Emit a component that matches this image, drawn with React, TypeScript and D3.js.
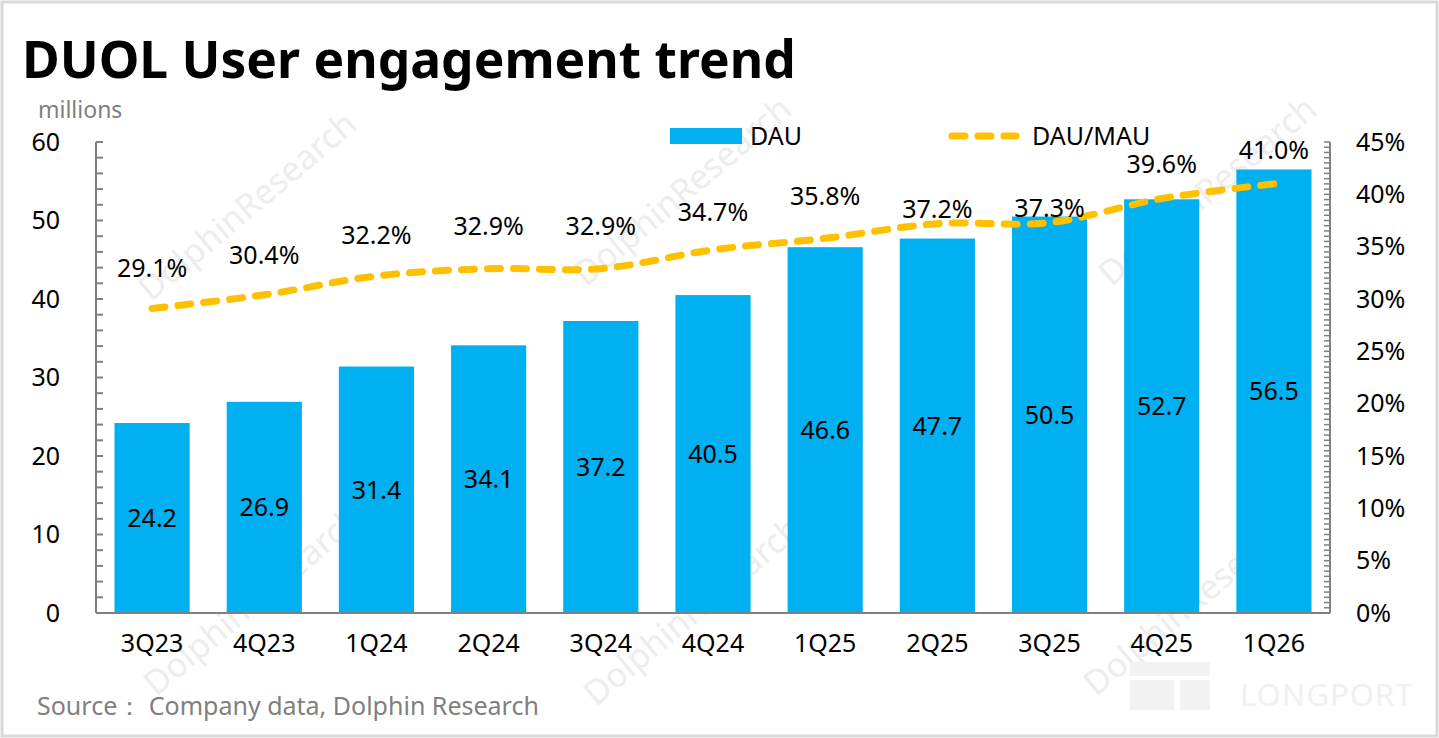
import React from "react";
import * as d3 from "d3";

const categories = ["3Q23", "4Q23", "1Q24", "2Q24", "3Q24", "4Q24", "1Q25", "2Q25", "3Q25", "4Q25", "1Q26"];
const dau = [24.2, 26.9, 31.4, 34.1, 37.2, 40.5, 46.6, 47.7, 50.5, 52.7, 56.5];
const dauMau = [29.1, 30.4, 32.2, 32.9, 32.9, 34.7, 35.8, 37.2, 37.3, 39.6, 41.0];
const leftTicks = [0, 10, 20, 30, 40, 50, 60];
const rightTicks = [0, 5, 10, 15, 20, 25, 30, 35, 40, 45];
// label vertical offsets for the ratio labels (layout only)
const ratioLabelOffsets = [-40, -40, -41, -42, -42, -38, -42, -14, -14, -34, -34];

const W = 1439;
const H = 738;
const FONT = "'Noto Sans', 'Open Sans', sans-serif";
const BLUE = "#00B0F0";
const GOLD = "#FFC000";
const AXIS = "#808080";
const FS = 25;

export default function App() {
  const left = 96;
  const right = 1330;
  const top = 142;
  const bottom = 613;

  const x = d3.scaleBand<string>().domain(categories).range([left, right]).paddingInner(0.33).paddingOuter(0.165);
  const yL = d3.scaleLinear().domain([0, 60]).range([bottom, top]);
  const yR = d3.scaleLinear().domain([0, 45]).range([bottom, top]);

  const lineGen = d3
    .line<number>()
    .x((_, i) => (x(categories[i]) as number) + x.bandwidth() / 2)
    .y((d) => yR(d))
    .curve(d3.curveCatmullRom.alpha(0.5));

  const leftMinor = d3.range(0, 61, 2);
  const rightMinor = d3.range(0, 45.01, 0.5);

  const watermarks = [
    { x: 255, y: 215 },
    { x: 690, y: 200 },
    { x: 1215, y: 200 },
    { x: 260, y: 610 },
    { x: 700, y: 620 },
    { x: 1200, y: 610 },
  ];

  return (
    <div style={{ position: "absolute", left: 0, top: 0, width: W, height: H, background: "#fff" }}>
      <svg width={W} height={H} style={{ display: "block" }} fontFamily={FONT}>
        <rect x={0} y={0} width={W} height={H} fill="#fff" />
        <rect x={2} y={2} width={W - 4} height={H - 4} fill="none" stroke="#d9d9d9" strokeWidth={3} />

        {/* watermarks */}
        {watermarks.map((w, i) => (
          <text
            key={"wm" + i}
            x={w.x}
            y={w.y}
            transform={`rotate(-40 ${w.x} ${w.y})`}
            textAnchor="middle"
            fontSize={34}
            fill="#ededed"
          >
            DolphinResearch
          </text>
        ))}
        <text x={1240} y={706} fontSize={31} fill="#f0f0f0" letterSpacing={1}>
          LONGPORT
        </text>
        <rect x={1130} y={662} width={80} height={14} fill="#f2f2f2" />
        <rect x={1130} y={680} width={44} height={30} fill="#f2f2f2" />
        <rect x={1180} y={680} width={30} height={30} fill="#f2f2f2" />

        {/* title */}
        <text x={22} y={78} fontSize={51.5} fontWeight={700} fill="#000">
          DUOL User engagement trend
        </text>
        <text x={38} y={118} fontSize={23} fill="#7f7f7f">
          millions
        </text>

        {/* bars */}
        {dau.map((v, i) => (
          <rect
            key={"b" + i}
            x={x(categories[i])}
            y={yL(v)}
            width={x.bandwidth()}
            height={bottom - yL(v)}
            fill={BLUE}
          />
        ))}
        {dau.map((v, i) => (
          <text
            key={"bl" + i}
            x={(x(categories[i]) as number) + x.bandwidth() / 2}
            y={yL(v / 2)}
            dy="0.35em"
            textAnchor="middle"
            fontSize={FS}
            fill="#000"
          >
            {v.toFixed(1)}
          </text>
        ))}

        {/* left axis */}
        <line x1={left} x2={left} y1={top} y2={bottom} stroke={AXIS} strokeWidth={2} />
        {leftMinor.map((t) => (
          <line key={"lm" + t} x1={left} x2={left + 7} y1={yL(t)} y2={yL(t)} stroke={AXIS} strokeWidth={2} />
        ))}
        {leftTicks.map((t) => (
          <text key={"lt" + t} x={60} y={yL(t)} dy="0.35em" textAnchor="end" fontSize={FS} fill="#000">
            {t}
          </text>
        ))}

        {/* right axis */}
        <line x1={right} x2={right} y1={top} y2={bottom} stroke={AXIS} strokeWidth={2} />
        {rightMinor.map((t) => (
          <line key={"rm" + t} x1={right - 6} x2={right} y1={yR(t)} y2={yR(t)} stroke={AXIS} strokeWidth={1.5} />
        ))}
        {rightTicks.map((t) => (
          <text key={"rt" + t} x={1356} y={yR(t)} dy="0.35em" textAnchor="start" fontSize={FS} fill="#000">
            {t + "%"}
          </text>
        ))}

        {/* bottom axis */}
        <line x1={left} x2={right} y1={bottom} y2={bottom} stroke={AXIS} strokeWidth={2} />
        {categories.map((c) => (
          <text
            key={"c" + c}
            x={(x(c) as number) + x.bandwidth() / 2}
            y={643}
            dy="0.35em"
            textAnchor="middle"
            fontSize={FS}
            fill="#000"
          >
            {c}
          </text>
        ))}

        {/* line */}
        <path
          d={lineGen(dauMau) || ""}
          fill="none"
          stroke={GOLD}
          strokeWidth={7}
          strokeDasharray="13 13"
          strokeLinecap="round"
        />
        {dauMau.map((v, i) => (
          <text
            key={"ll" + i}
            x={(x(categories[i]) as number) + x.bandwidth() / 2}
            y={yR(v) + ratioLabelOffsets[i]}
            dy="0.35em"
            textAnchor="middle"
            fontSize={FS}
            fill="#000"
          >
            {v.toFixed(1) + "%"}
          </text>
        ))}

        {/* legend */}
        <rect x={670} y={128} width={72} height={16} fill={BLUE} />
        <text x={750} y={136} dy="0.35em" fontSize={FS} fill="#000">
          DAU
        </text>
        <line
          x1={952}
          x2={1016}
          y1={136}
          y2={136}
          stroke={GOLD}
          strokeWidth={7}
          strokeDasharray="13 13"
          strokeLinecap="round"
        />
        <text x={1032} y={136} dy="0.35em" fontSize={FS} fill="#000">
          DAU/MAU
        </text>

        {/* source */}
        <text x={37} y={706} dy="0.35em" fontSize={25} fill="#7f7f7f">
          {"Source\uFF1A Company data, Dolphin Research"}
        </text>
      </svg>
    </div>
  );
}
